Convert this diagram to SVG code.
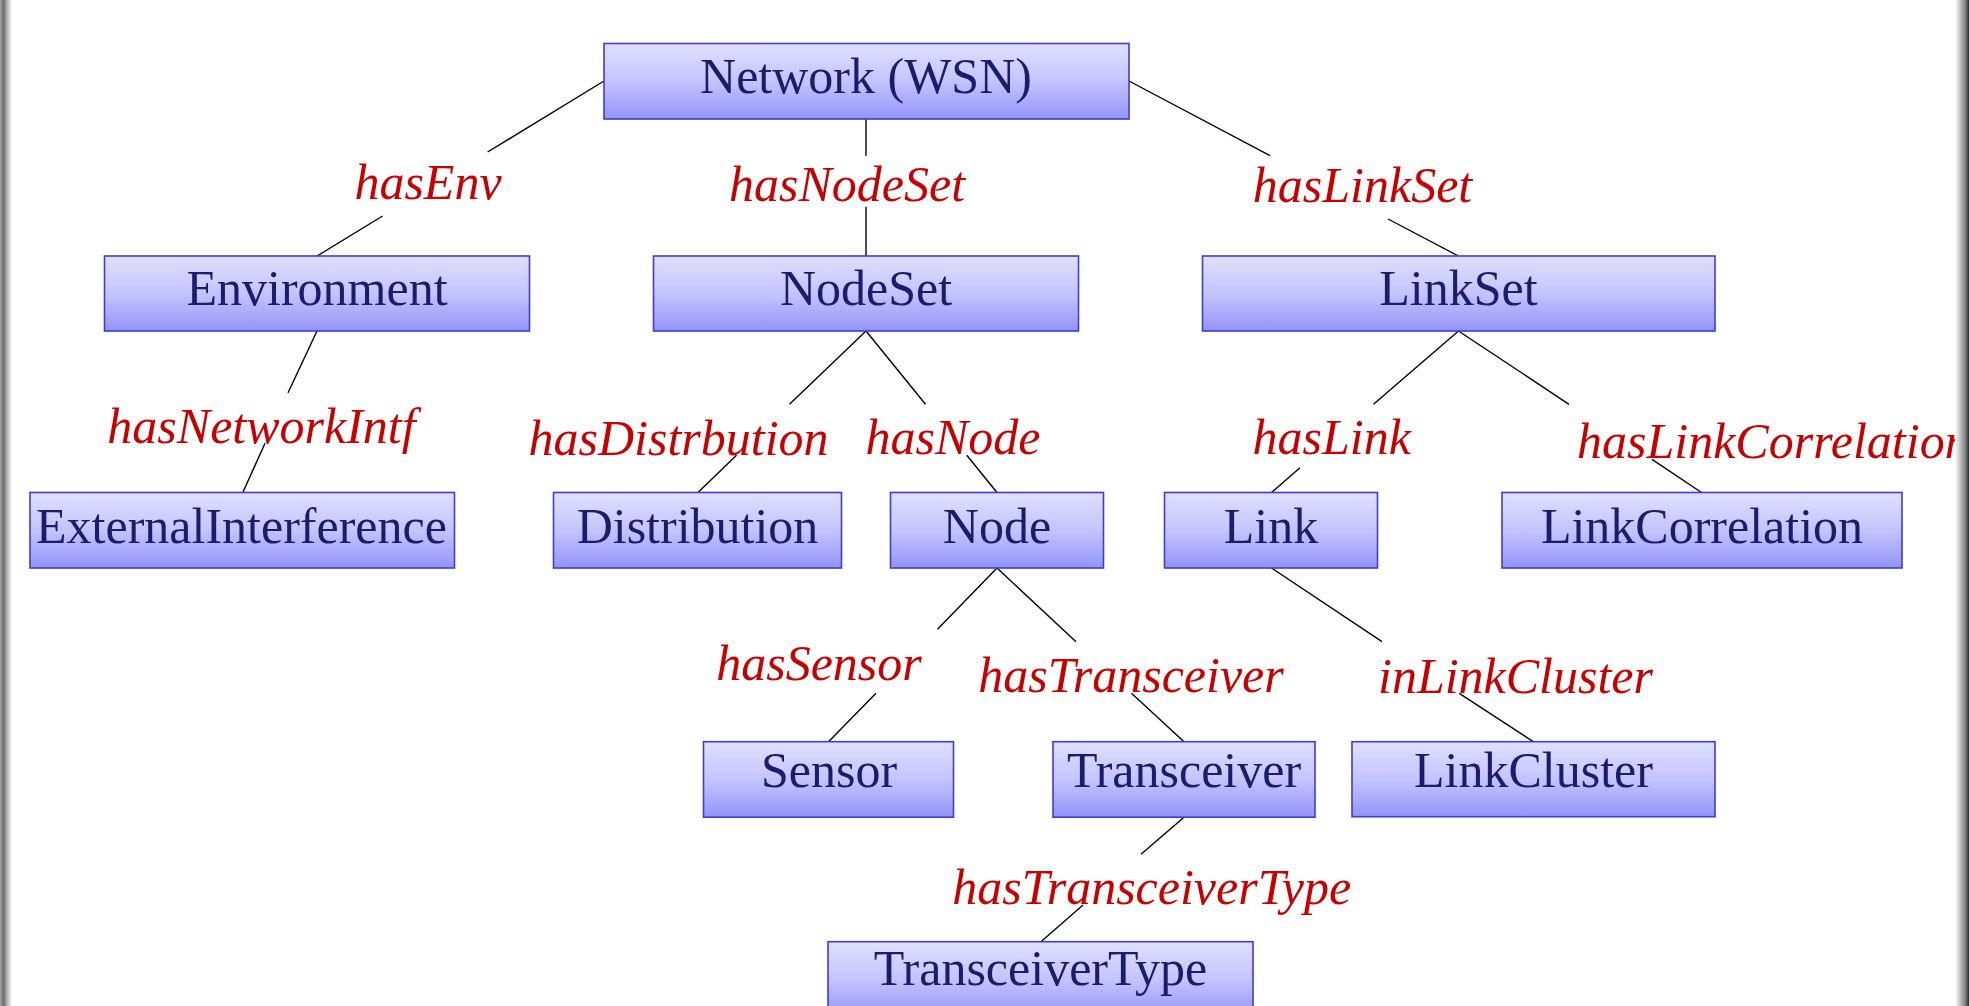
<svg xmlns="http://www.w3.org/2000/svg" width="1969" height="1006" viewBox="0 0 1969 1006">
<defs>
<linearGradient id="boxg" x1="0" y1="0" x2="0" y2="1">
<stop offset="0" stop-color="#e0e0ff"/>
<stop offset="0.5" stop-color="#c4c4fd"/>
<stop offset="1" stop-color="#9393f8"/>
</linearGradient>
<linearGradient id="lb" x1="0" y1="0" x2="1" y2="0">
<stop offset="0" stop-color="#a4a4a4"/>
<stop offset="0.3" stop-color="#6c6c6c"/>
<stop offset="0.55" stop-color="#a8a8a8"/>
<stop offset="1" stop-color="#ffffff"/>
</linearGradient>
<linearGradient id="rb" x1="0" y1="0" x2="1" y2="0">
<stop offset="0" stop-color="#ffffff"/>
<stop offset="0.7" stop-color="#8a8a8a"/>
<stop offset="0.85" stop-color="#5a5a5a"/>
<stop offset="1" stop-color="#2a2a2a"/>
</linearGradient>
</defs>
<style>
.box{fill:url(#boxg);stroke:#3d3dd6;stroke-width:1.6}
.nt{font-family:"Liberation Serif","Times New Roman",serif;font-size:50px;fill:#1c1c6c;text-anchor:middle}
.lb{font-family:"Liberation Serif","Times New Roman",serif;font-size:50px;font-style:italic;fill:#c80000;text-anchor:middle}
.cn{stroke:#000;stroke-width:1.4;fill:none}
</style>
<rect x="0" y="0" width="1969" height="1006" fill="#ffffff"/>
<g id="connectors">
<path class="cn" d="M604,81 L487.6,152 M382.6,216 L317,256"/>
<path class="cn" d="M866,119 L866,155.7 M866,206.7 L866,256"/>
<path class="cn" d="M1129,81 L1270,155.7 M1388,219 L1458.5,256"/>
<path class="cn" d="M317,331 L288,392.7 M265,443.3 L242.8,492.5"/>
<path class="cn" d="M866,331 L789.5,404.3 M736.5,455.3 L698,492.5"/>
<path class="cn" d="M866,331 L925.5,404.3 M966.8,455.3 L997,492.5"/>
<path class="cn" d="M1458.5,331 L1373.5,404.3 M1300,467.7 L1271.5,492.5"/>
<path class="cn" d="M1458.5,331 L1569,404.3 M1652,459.3 L1701.5,492.5"/>
<path class="cn" d="M997,568 L937.5,629.3 M876,693.3 L828.5,741.7"/>
<path class="cn" d="M997,568 L1076,641.7 M1131.5,693.3 L1184,741.7"/>
<path class="cn" d="M1271.5,568 L1382,641.7 M1459.3,693.3 L1533.3,741.7"/>
<path class="cn" d="M1184,817.3 L1141,854.3 M1083,905 L1041,941.7"/>
<text class="lb" x="428" y="199">hasEnv</text>
<text class="lb" x="847" y="201">hasNodeSet</text>
<text class="lb" x="1362.5" y="202">hasLinkSet</text>
<text class="lb" x="261.5" y="442.5">hasNetworkIntf</text>
<text class="lb" x="678.5" y="455">hasDistrbution</text>
<text class="lb" x="953" y="453.5">hasNode</text>
<text class="lb" x="1331.7" y="453.5">hasLink</text>
<text class="lb" x="1577" y="458" style="text-anchor:start">hasLinkCorrelation</text>
<text class="lb" x="819" y="679.5">hasSensor</text>
<text class="lb" x="1131" y="692">hasTransceiver</text>
<text class="lb" x="1515.5" y="692.5">inLinkCluster</text>
<text class="lb" x="1151.7" y="903.5">hasTransceiverType</text>
</g>
<g id="node-network"><rect class="box" x="604" y="43.5" width="525" height="75.5"/><text class="nt" x="866" y="92.5">Network (WSN)</text></g>
<g id="node-environment"><rect class="box" x="104.5" y="256" width="425" height="75"/><text class="nt" x="317" y="305">Environment</text></g>
<g id="node-nodeset"><rect class="box" x="653.5" y="256" width="425" height="75"/><text class="nt" x="866" y="305">NodeSet</text></g>
<g id="node-linkset"><rect class="box" x="1202.5" y="256" width="512.5" height="75"/><text class="nt" x="1458.5" y="305">LinkSet</text></g>
<g id="node-externalinterference"><rect class="box" x="30" y="492.5" width="424.5" height="75.5"/><text class="nt" x="241.5" y="542.5">ExternalInterference</text></g>
<g id="node-distribution"><rect class="box" x="553.5" y="492.5" width="288" height="75.5"/><text class="nt" x="697.5" y="542.5">Distribution</text></g>
<g id="node-node"><rect class="box" x="890.5" y="492.5" width="213" height="75.5"/><text class="nt" x="997" y="542.5">Node</text></g>
<g id="node-link"><rect class="box" x="1164.5" y="492.5" width="213" height="75.5"/><text class="nt" x="1271" y="542.5">Link</text></g>
<g id="node-linkcorrelation"><rect class="box" x="1502" y="492.5" width="400" height="75.5"/><text class="nt" x="1702" y="542.5">LinkCorrelation</text></g>
<g id="node-sensor"><rect class="box" x="703.5" y="741.7" width="250" height="75.5"/><text class="nt" x="829" y="787">Sensor</text></g>
<g id="node-transceiver"><rect class="box" x="1053" y="741.7" width="262" height="75.5"/><text class="nt" x="1184" y="787">Transceiver</text></g>
<g id="node-linkcluster"><rect class="box" x="1352" y="741.7" width="363" height="75"/><text class="nt" x="1533.5" y="787">LinkCluster</text></g>
<g id="node-transceivertype"><rect class="box" x="828" y="941.7" width="425" height="75.5"/><text class="nt" x="1040.5" y="985">TransceiverType</text></g>
<rect x="0" y="0" width="12" height="1006" fill="url(#lb)"/>
<rect x="1955" y="0" width="14" height="1006" fill="url(#rb)"/>
</svg>
